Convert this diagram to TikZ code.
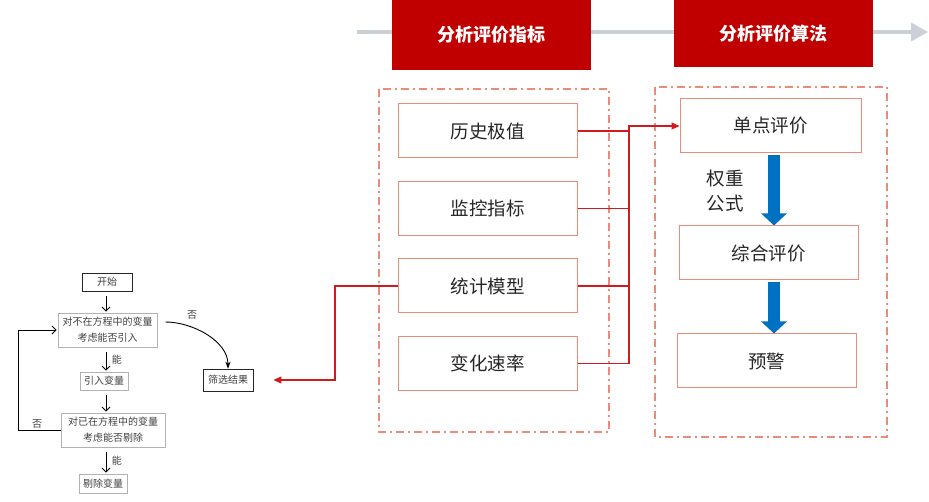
\documentclass[tikz,border=0pt]{standalone}
\usepackage{fontspec}
\setmainfont{Noto Sans CJK SC}
\usepackage{tikz}
\usetikzlibrary{positioning, arrows.meta, calc}

\definecolor{hdred}{HTML}{C00000}
\definecolor{salmon}{HTML}{EC8C78}
\definecolor{linkred}{HTML}{D01A1E}
\definecolor{railgray}{HTML}{CBD0D6}
\definecolor{flowblue}{HTML}{0070C0}

\begin{document}
\begin{tikzpicture}[x=1pt, y=-1pt, >=Stealth, node distance=22.5pt,
      head/.style={fill=hdred, text=white, font=\fontsize{18}{20}\selectfont\bfseries, minimum width=199pt, inner sep=0pt},
      item/.style={draw=salmon, line width=1pt, minimum width=179pt, minimum height=54pt, inner sep=0pt,
        font=\fontsize{18.5}{20}\selectfont, text=black!85},
      zone/.style={draw=salmon, line width=2.5pt, dash pattern=on 8pt off 4pt on 2pt off 4pt},
      rail/.style={draw=railgray, line width=4pt, -{Triangle[length=17pt, width=18pt]}},
      link/.style={draw=linkred, line width=1.1pt},
      flow/.style={draw=flowblue, line width=12pt, -{Triangle[length=12pt, width=25pt]}},
      fbox/.style={draw=black!30, line width=0.8pt, font=\fontsize{10}{16}\selectfont, text=black!75,
        align=center, inner sep=1pt},
      fend/.style={fbox, draw=black!85},
      farr/.style={-{Straight Barb[length=4pt, width=8pt]}, line width=0.9pt, shorten <=5pt, shorten >=1pt},
      ftag/.style={font=\fontsize{10}{12}\selectfont, text=black!75}]
    \useasboundingbox (0,0) rectangle (929,502);
    \coordinate (railL) at (357,32);
    \coordinate (railR) at (928,32);
    \draw[rail] (railL) -- (railR);
    \node[head, minimum height=70pt] (h1) at (491.5,35) {分析评价指标};
    \node[head, minimum height=67pt] (h2) at (773.5,33.5) {分析评价算法};
    \draw[zone] (379,89) rectangle (609,432);
    \draw[zone] (655,87) rectangle (887,437);
    \node[item] (hist) at (487.5,131) {历史极值};
    \node[item, below=of hist] (mon) {监控指标};
    \node[item, below=of mon] (stat) {统计模型};
    \node[item, below=of stat] (rate) {变化速率};
    \node[item, minimum width=181pt] (single) at (770.5,126) {单点评价};
    \node[item] (comp) at (768.5,253) {综合评价};
    \node[item] (alarm) at (766.5,361) {预警};
    \node[font=\fontsize{18.5}{25}\selectfont, align=left, text=black!85] (wt) at (725,191) {权重\\公式};
    \coordinate (ax) at (774,0);
    \draw[flow] ([yshift=-2pt]single.south -| ax) -- (comp.north -| ax);
    \draw[flow] ([yshift=-2pt]comp.south -| ax) -- (alarm.north -| ax);
    \coordinate (bus) at (629,126);
    \draw[link] (hist.east) -- (hist.east -| bus);
    \draw[link] (mon.east) -- (mon.east -| bus);
    \draw[link] (stat.east) -- (stat.east -| bus);
    \draw[link, -{Triangle[length=8pt, width=7pt]}] (rate.east) -| (bus) -- (single.west);
    \node[fend, minimum width=50pt, minimum height=18pt] (start) at (107,282) {开始};
    \node[fbox, minimum width=99pt, minimum height=34pt] (q1) at (107.5,330) {对不在方程中的变量\\考虑能否引入};
    \node[fbox, minimum width=48pt, minimum height=18pt] (add) at (104,381) {引入变量};
    \node[fbox, minimum width=104pt, minimum height=34pt] (q2) at (113,430) {对已在方程中的变量\\考虑能否剔除};
    \node[fbox, minimum width=48pt, minimum height=19pt] (del) at (103,483.5) {剔除变量};
    \node[fend, minimum width=50pt, minimum height=22pt] (res) at (228,380) {筛选结果};
    \draw[farr] (start.south -| 106,0) -- (q1.north -| 106,0);
    \draw[farr] (q1.south -| 106,0) -- (add.north -| 106,0) node[ftag, midway, right=2pt] {能};
    \draw[farr] (add.south -| 106,0) -- (q2.north -| 106,0);
    \draw[farr] (q2.south -| 106,0) -- (del.north -| 106,0) node[ftag, midway, right=2pt] {能};
    \draw[farr, shorten <=0pt] (q2.west) -- (18,430) |- (q1.west);
    \node[ftag] (no1) at (37,424) {否};
    \draw[->, line width=0.9pt] ($(q1.east)+(8,-8)$) to[out=0, in=90, looseness=0.9] (res.north);
    \node[ftag] (no2) at (192,315) {否};
    \draw[link, -{Triangle[length=8pt, width=7pt]}, shorten >=20pt] (stat.west) -| (335,330) |- (res.east);
  \end{tikzpicture}
\end{document}
